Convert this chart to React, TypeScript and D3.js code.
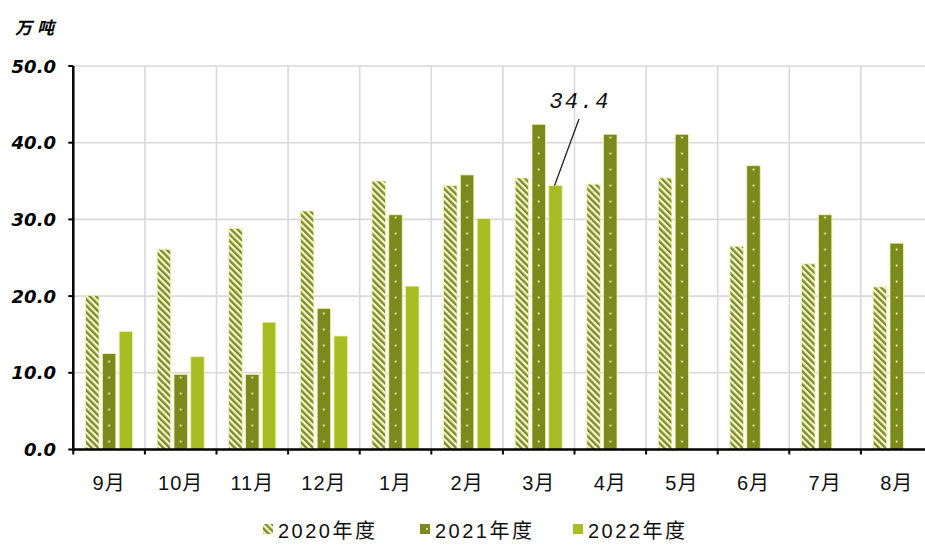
import React from 'react';
import * as d3 from 'd3';

const categories = ['9月', '10月', '11月', '12月', '1月', '2月', '3月', '4月', '5月', '6月', '7月', '8月'];
const seriesNames = ['2020年度', '2021年度', '2022年度'];
const values2020 = [20.1, 26.1, 28.8, 31.1, 35.0, 34.4, 35.4, 34.6, 35.4, 26.5, 24.2, 21.2];
const values2021 = [12.5, 9.8, 9.8, 18.4, 30.6, 35.8, 42.4, 41.1, 41.1, 37.0, 30.6, 26.9];
const values2022: (number | null)[] = [15.4, 12.1, 16.6, 14.8, 21.3, 30.1, 34.4, null, null, null, null, null];
const yTicks = [0, 10, 20, 30, 40, 50];
const unitLabel = '万吨';
const annotationIndex = 6;

const W = 925;
const H = 547;
const x0 = 73.3;
const step = 71.6;
const yBottom = 449.5;
const yTop = 66;

const DARK = '#7b8a1c';
const LIGHT_GREEN = '#a6bd24';
const STRIPE_DARK = '#7d8b2c';
const STRIPE_LIGHT = '#f6f9cc';

export default function App() {
  const x = d3.scaleBand<string>().domain(categories).range([x0, x0 + step * categories.length]).padding(0);
  const groupW = 47;
  const groupOff = (step - groupW) / 2;
  const x1 = d3.scaleBand<string>().domain(seriesNames).range([groupOff, groupOff + groupW]).paddingInner(0.2).paddingOuter(0);
  const y = d3.scaleLinear().domain([0, 50]).range([yBottom, yTop]);
  const bw = x1.bandwidth();

  const allSeries = [values2020, values2021, values2022];
  const fills = ['url(#stripes)', 'url(#dots)', LIGHT_GREEN];

  const dotX = (x(categories[0]) as number) + (x1(seriesNames[1]) as number);

  const annBarX = (x(categories[annotationIndex]) as number) + (x1(seriesNames[2]) as number) + bw / 2;
  const annVal = values2022[annotationIndex] as number;
  const annBarY = y(annVal);

  const font = '"Liberation Sans", "Noto Sans CJK SC", sans-serif';

  return (
    <svg width={W} height={H} style={{ position: 'absolute', left: 0, top: 0, background: '#fff' }}>
      <defs>
        <pattern id="stripes" patternUnits="userSpaceOnUse" width={4.6} height={4.6} patternTransform="rotate(-45)">
          <rect width={4.6} height={4.6} fill={STRIPE_LIGHT} />
          <rect width={2.4} height={4.6} fill={STRIPE_DARK} />
        </pattern>
        <pattern id="dots" patternUnits="userSpaceOnUse" x={dotX} y={yBottom} width={step} height={16}>
          <rect width={step} height={16} fill={DARK} />
          <circle cx={bw / 2} cy={8} r={1.1} fill="#f4f7b0" />
        </pattern>
      </defs>

      {/* gridlines */}
      {yTicks.filter((t) => t > 0).map((t) => (
        <line key={'h' + t} x1={x0} x2={W} y1={y(t)} y2={y(t)} stroke="#d9d9d9" strokeWidth={1.6} />
      ))}
      {categories.map((c) => (
        <line key={'v' + c} x1={(x(c) as number) + step} x2={(x(c) as number) + step} y1={yTop} y2={yBottom} stroke="#d9d9d9" strokeWidth={1.6} />
      ))}

      {/* bars */}
      {allSeries.map((vals, si) =>
        vals.map((v, i) =>
          v == null ? null : (
            <rect
              key={si + '-' + i}
              x={(x(categories[i]) as number) + (x1(seriesNames[si]) as number)}
              y={y(v)}
              width={bw}
              height={yBottom - y(v)}
              fill={fills[si]}
              stroke="#eef3a8"
              strokeWidth={0.8}
            />
          )
        )
      )}

      {/* axes */}
      <line x1={x0} x2={x0} y1={yTop} y2={yBottom + 1} stroke="#000" strokeWidth={2.5} />
      {yTicks.map((t) => (
        <line key={'yt' + t} x1={x0 - 5} x2={x0} y1={y(t)} y2={y(t)} stroke="#000" strokeWidth={2} />
      ))}
      <line x1={x0 - 1} x2={W} y1={yBottom} y2={yBottom} stroke="#000" strokeWidth={2.5} />
      {categories.map((c, i) => (
        <line key={'xt' + c} x1={(x(c) as number) + (i === 0 ? 0 : 0)} x2={x(c) as number} y1={yBottom} y2={yBottom + 5} stroke="#000" strokeWidth={2} />
      ))}

      {/* y tick labels */}
      {yTicks.map((t) => (
        <text
          key={'yl' + t}
          x={56}
          y={y(t) + 6.5}
          textAnchor="end"
          fontFamily='"DejaVu Sans", sans-serif'
          fontWeight="bold"
          fontStyle="italic"
          fontSize={18}
          fill="#000"
        >
          {t.toFixed(1)}
        </text>
      ))}

      {/* unit label */}
      <text x={15} y={34} fontFamily='"Noto Sans CJK SC", sans-serif' fontWeight="bold" fontStyle="italic" fontSize={17} letterSpacing={5} fill="#000">
        {unitLabel}
      </text>

      {/* x labels */}
      {categories.map((c) => (
        <text
          key={'xl' + c}
          x={(x(c) as number) + step / 2}
          y={490}
          textAnchor="middle"
          fontFamily={font}
          fontSize={20}
          letterSpacing={1}
          fill="#111"
        >
          {c}
        </text>
      ))}

      {/* annotation */}
      <line x1={579} y1={119} x2={annBarX - 1} y2={annBarY} stroke="#222" strokeWidth={1.3} />
      <text
        x={580}
        y={108}
        textAnchor="middle"
        fontFamily='"Liberation Mono", "DejaVu Sans Mono", monospace'
        fontStyle="italic"
        fontSize={22}
        letterSpacing={2}
        fill="#111"
      >
        {annVal.toFixed(1)}
      </text>

      {/* legend */}
      {seriesNames.map((name, i) => {
        const lx = [263, 420, 573][i];
        return (
          <g key={'lg' + name}>
            <rect x={lx} y={524} width={10} height={10} fill={fills[i] === 'url(#dots)' ? DARK : fills[i]} />
            {i === 1 && <circle cx={lx + 7} cy={529} r={1} fill="#f4f7b0" />}
            <text x={lx + 15} y={538} fontFamily={font} fontSize={20} letterSpacing={2.5} fill="#111">
              {name}
            </text>
          </g>
        );
      })}
    </svg>
  );
}
